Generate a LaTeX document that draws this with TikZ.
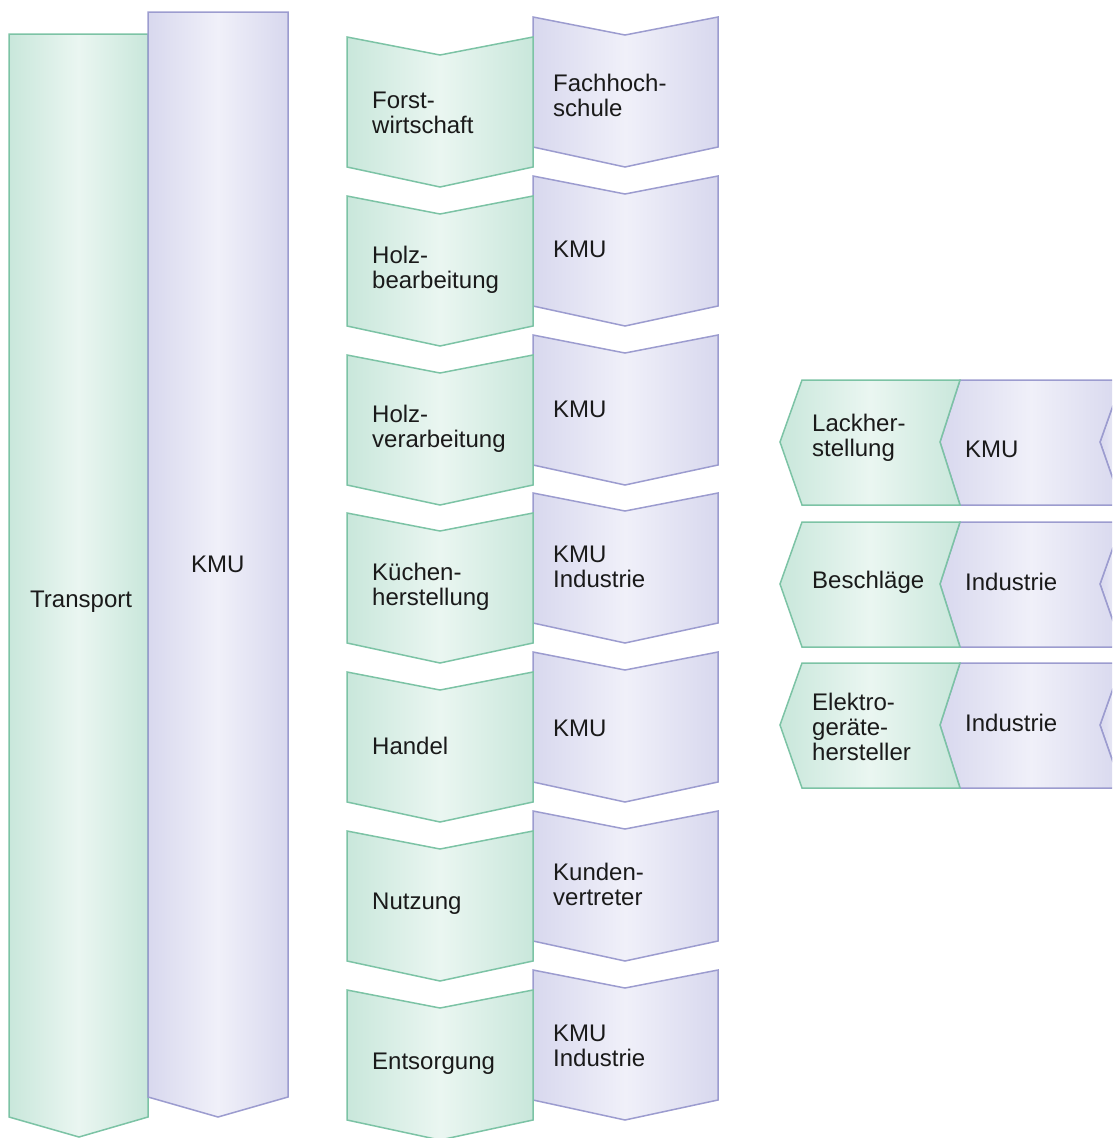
\documentclass[tikz,border=0pt]{standalone}
\usepackage{fontspec}
\setmainfont{Liberation Sans}
\usepackage{xcolor}

\definecolor{gline}{HTML}{7CC3A5}
\definecolor{gfill}{HTML}{C9E7DB}
\definecolor{glight}{HTML}{EAF6F1}
\definecolor{pline}{HTML}{9C9CCF}
\definecolor{pfill}{HTML}{D8D8EE}
\definecolor{plight}{HTML}{F0F0F9}
\definecolor{ink}{HTML}{1A1A1A}

\begin{document}
\begin{tikzpicture}[x=1pt, y=-1pt]
  \tikzstyle{every node}=[font=\fontsize{24}{25}\selectfont, text=ink, inner sep=0pt, anchor=west, align=left]
  \tikzstyle{green}=[draw=gline, line width=1.5pt, line join=miter, left color=gfill, right color=gfill, middle color=glight]
  \tikzstyle{purple}=[draw=pline, line width=1.5pt, line join=miter, left color=pfill, right color=pfill, middle color=plight]

  \path[use as bounding box, clip] (0, 0) rectangle (1112, 1138);

  % left column
  \draw[green] (9, 34) -- (148, 34) -- (148, 1117) -- (79, 1137) -- (9, 1117) -- cycle;
  \draw[purple] (148, 12) -- (288, 12) -- (288, 1097) -- (218, 1117) -- (148, 1097) -- cycle;
    \node (transport) at (30, 602) {Transport};
    \node (kmu0) at (191, 564) {KMU};

  % middle column
  \draw[purple] (533, 17) -- (625, 35) -- (718, 17) -- (718, 147) -- (625, 167) -- (533, 147) -- cycle;
  \draw[green] (347, 37) -- (440, 55) -- (533, 37) -- (533, 167) -- (440, 187) -- (347, 167) -- cycle;
    \node (forst) at (372, 113) {Forst-\\wirtschaft};
    \node (fh) at (553, 95) {Fachhoch-\\schule};

  \draw[purple] (533, 176) -- (625, 194) -- (718, 176) -- (718, 306) -- (625, 326) -- (533, 306) -- cycle;
  \draw[green] (347, 196) -- (440, 214) -- (533, 196) -- (533, 326) -- (440, 346) -- (347, 326) -- cycle;
    \node (holzbe) at (372, 270) {Holz-\\bearbeitung};
    \node (kmu1) at (553, 249) {KMU};

  \draw[purple] (533, 335) -- (625, 353) -- (718, 335) -- (718, 465) -- (625, 485) -- (533, 465) -- cycle;
  \draw[green] (347, 355) -- (440, 373) -- (533, 355) -- (533, 485) -- (440, 505) -- (347, 485) -- cycle;
    \node (holzve) at (372, 429) {Holz-\\verarbeitung};
    \node (kmu2) at (553, 409) {KMU};

  \draw[purple] (533, 493) -- (625, 511) -- (718, 493) -- (718, 623) -- (625, 643) -- (533, 623) -- cycle;
  \draw[green] (347, 513) -- (440, 531) -- (533, 513) -- (533, 643) -- (440, 663) -- (347, 643) -- cycle;
    \node (kueche) at (372, 587) {Küchen-\\herstellung};
    \node (kmuind1) at (553, 567) {KMU\\Industrie};

  \draw[purple] (533, 652) -- (625, 670) -- (718, 652) -- (718, 782) -- (625, 802) -- (533, 782) -- cycle;
  \draw[green] (347, 672) -- (440, 690) -- (533, 672) -- (533, 802) -- (440, 822) -- (347, 802) -- cycle;
    \node (handel) at (372, 746) {Handel};
    \node (kmu3) at (553, 728) {KMU};

  \draw[purple] (533, 811) -- (625, 829) -- (718, 811) -- (718, 941) -- (625, 961) -- (533, 941) -- cycle;
  \draw[green] (347, 831) -- (440, 849) -- (533, 831) -- (533, 961) -- (440, 981) -- (347, 961) -- cycle;
    \node (nutzung) at (372, 904) {Nutzung};
    \node (kunden) at (553, 884) {Kunden-\\vertreter};

  \draw[purple] (533, 970) -- (625, 988) -- (718, 970) -- (718, 1100) -- (625, 1120) -- (533, 1100) -- cycle;
  \draw[green] (347, 990) -- (440, 1008) -- (533, 990) -- (533, 1120) -- (440, 1140) -- (347, 1120) -- cycle;
    \node (entsorgung) at (372, 1064) {Entsorgung};
    \node (kmuind2) at (553, 1046) {KMU\\Industrie};

  % right rows
  \draw[purple] (1122, 380) -- (1140, 380) -- (1140, 505) -- (1122, 505) -- (1100, 442) -- cycle;
  \draw[purple] (960, 380) -- (1122, 380) -- (1100, 442) -- (1122, 505) -- (960, 505) -- (940, 442) -- cycle;
  \draw[green] (802, 380) -- (960, 380) -- (940, 442) -- (960, 505) -- (802, 505) -- (780, 442) -- cycle;
    \node (lack) at (812, 438) {Lackher-\\stellung};
    \node (kmu4) at (965, 449) {KMU};

  \draw[purple] (1122, 522) -- (1140, 522) -- (1140, 647) -- (1122, 647) -- (1100, 584) -- cycle;
  \draw[purple] (960, 522) -- (1122, 522) -- (1100, 584) -- (1122, 647) -- (960, 647) -- (940, 584) -- cycle;
  \draw[green] (802, 522) -- (960, 522) -- (940, 584) -- (960, 647) -- (802, 647) -- (780, 584) -- cycle;
    \node (beschlaege) at (812, 582) {Beschläge};
    \node (ind1) at (965, 582) {Industrie};

  \draw[purple] (1122, 663) -- (1140, 663) -- (1140, 788) -- (1122, 788) -- (1100, 725) -- cycle;
  \draw[purple] (960, 663) -- (1122, 663) -- (1100, 725) -- (1122, 788) -- (960, 788) -- (940, 725) -- cycle;
  \draw[green] (802, 663) -- (960, 663) -- (940, 725) -- (960, 788) -- (802, 788) -- (780, 725) -- cycle;
    \node (elektro) at (812, 727) {Elektro-\\geräte-\\hersteller};
    \node (ind2) at (965, 723) {Industrie};

\end{tikzpicture}
\end{document}
